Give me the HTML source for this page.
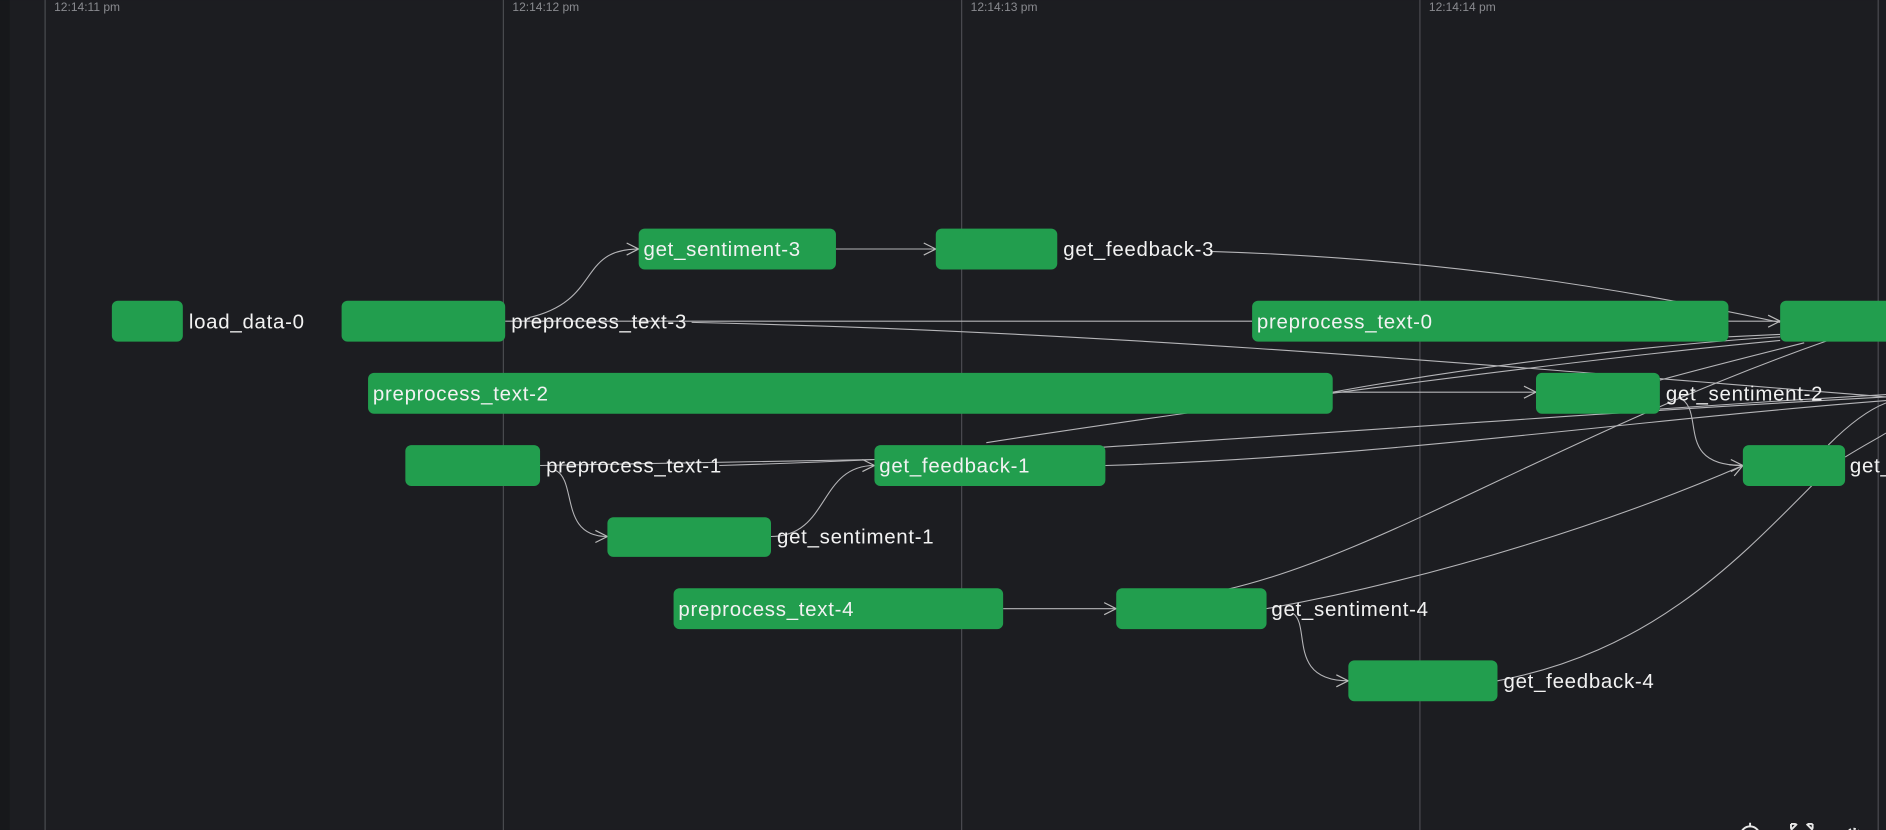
<!DOCTYPE html>
<html><head><meta charset="utf-8"><style>
html,body{margin:0;padding:0;background:#1c1d21;width:1886px;height:830px;overflow:hidden}
svg{display:block}
text{font-family:"Liberation Sans",sans-serif}
</style></head><body>
<svg width="1886" height="830" viewBox="0 0 1568 690" xmlns="http://www.w3.org/2000/svg">
<defs>
<marker id="a" viewBox="0 0 12 12" refX="11" refY="6" markerWidth="12" markerHeight="12" markerUnits="userSpaceOnUse" orient="auto">
<path d="M1,1 L11,6 L1,11" fill="none" stroke="#bbb" stroke-width="1"/>
</marker>
</defs>
<rect x="0" y="0" width="1568" height="690" fill="#1c1d21"/>
<rect x="0" y="0" width="8" height="690" fill="#17181b"/>
<g stroke="#4a4b50" stroke-width="1">
<line x1="37.5" y1="0" x2="37.5" y2="690"/>
<line x1="418.5" y1="0" x2="418.5" y2="690"/>
<line x1="799.5" y1="0" x2="799.5" y2="690"/>
<line x1="1180.5" y1="0" x2="1180.5" y2="690"/>
<line x1="1561.5" y1="0" x2="1561.5" y2="690"/>
</g>
<g fill="#8a8b90" font-size="10">
<text x="45" y="9">12:14:11 pm</text>
<text x="426" y="9">12:14:12 pm</text>
<text x="807" y="9">12:14:13 pm</text>
<text x="1188" y="9">12:14:14 pm</text>
</g>
<g fill="none" stroke="#b5b5b8" stroke-width="0.9">
<path d="M440,264 C500,250 480,207 531,207" marker-end="url(#a)"/>
<path d="M695,207 L778,207" marker-end="url(#a)"/>
<path d="M1006,209 C1200,215 1350,240 1480,268"/>
<path d="M420,267 L1041,267"/>
<path d="M1437,267 L1480,267" marker-end="url(#a)"/>
<path d="M575,268 C900,275 1200,300 1568,330"/>
<path d="M1108,326 L1277,326" marker-end="url(#a)"/>
<path d="M1108,326 C1250,300 1400,285 1480,280"/>
<path d="M1437,280 L1480,278"/>
<path d="M462,391 C480,400 465,446 505,446" marker-end="url(#a)"/>
<path d="M641,446 C690,446 680,387 727,387" marker-end="url(#a)"/>
<path d="M449,387 C550,385 650,384 727,382"/>
<path d="M598,387 C900,378 1200,350 1568,330"/>
<path d="M919,387 C1150,380 1350,350 1568,333"/>
<path d="M820,368 C1000,340 1300,300 1480,283"/>
<path d="M1380,316 C1420,305 1460,295 1500,285"/>
<path d="M1395,330 C1420,340 1390,387 1449,387" marker-end="url(#a)"/>
<path d="M1380,340 C1450,335 1500,332 1568,328"/>
<path d="M834,506 L928,506" marker-end="url(#a)"/>
<path d="M1075,510 C1090,520 1070,566 1121,566" marker-end="url(#a)"/>
<path d="M1053,506 C1200,480 1350,430 1449,387" marker-end="url(#a)"/>
<path d="M1020,490 C1150,460 1300,360 1520,283"/>
<path d="M1245,566 C1380,540 1450,460 1520,390"/>
<path d="M1534,380 C1550,370 1560,365 1568,360"/>
<path d="M1520,370 C1540,350 1555,340 1568,335"/>
</g>
<g fill="#229e4e">
<rect x="93" y="250" width="59" height="34" rx="5"/>
<rect x="284" y="250" width="136" height="34" rx="5"/>
<rect x="531" y="190" width="164" height="34" rx="5"/>
<rect x="778" y="190" width="101" height="34" rx="5"/>
<rect x="1041" y="250" width="396" height="34" rx="5"/>
<rect x="1480" y="250" width="100" height="34" rx="5"/>
<rect x="306" y="310" width="802" height="34" rx="5"/>
<rect x="1277" y="310" width="103" height="34" rx="5"/>
<rect x="337" y="370" width="112" height="34" rx="5"/>
<rect x="727" y="370" width="192" height="34" rx="5"/>
<rect x="505" y="430" width="136" height="33" rx="5"/>
<rect x="560" y="489" width="274" height="34" rx="5"/>
<rect x="928" y="489" width="125" height="34" rx="5"/>
<rect x="1121" y="549" width="124" height="34" rx="5"/>
<rect x="1449" y="370" width="85" height="34" rx="5"/>
</g>
<g fill="#f2f2f2" font-size="17" letter-spacing="0.6">
<text x="157" y="273">load_data-0</text>
<text x="425" y="273">preprocess_text-3</text>
<text x="535" y="213">get_sentiment-3</text>
<text x="884" y="213">get_feedback-3</text>
<text x="1045" y="273">preprocess_text-0</text>
<text x="310" y="333">preprocess_text-2</text>
<text x="1385" y="333">get_sentiment-2</text>
<text x="454" y="393">preprocess_text-1</text>
<text x="731" y="393">get_feedback-1</text>
<text x="646" y="452">get_sentiment-1</text>
<text x="564" y="512">preprocess_text-4</text>
<text x="1057" y="512">get_sentiment-4</text>
<text x="1250" y="572">get_feedback-4</text>
<text x="1538" y="393">get_</text>
</g>
<g fill="none" stroke="#e8e8e8" stroke-width="1.6">
<circle cx="1455" cy="695" r="8"/>
<line x1="1455" y1="684" x2="1455" y2="687"/>
<path d="M1489,690 L1494,685 M1489,685 L1489,689 M1489,685 L1493,685 M1507,690 L1502,685 M1507,685 L1503,685 M1507,685 L1507,689"/>
<circle cx="1541" cy="695" r="6" stroke-dasharray="2 2"/>
</g>
</svg>
</body></html>
